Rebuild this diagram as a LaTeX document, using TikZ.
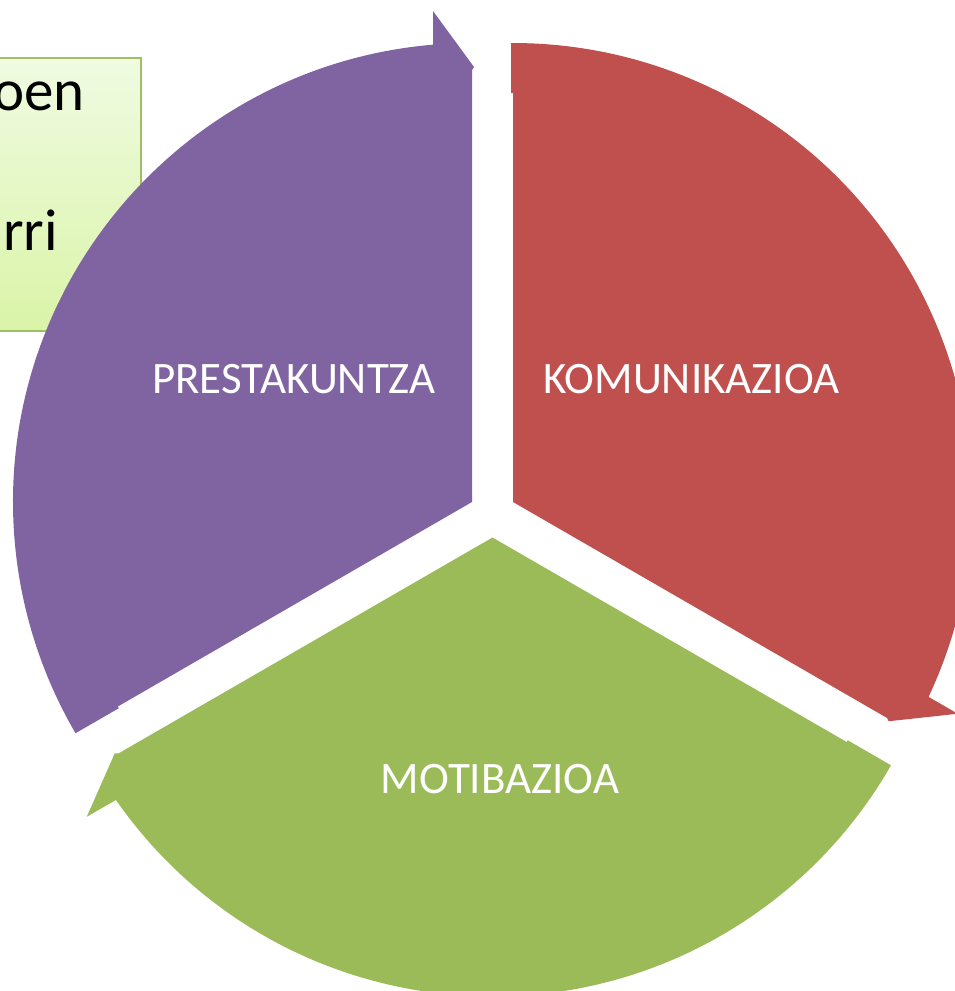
\documentclass[tikz,border=0pt]{standalone}
\usepackage{fontspec}
\setmainfont{Carlito}
\definecolor{cpurple}{HTML}{8064A2}
\definecolor{cred}{HTML}{C0504D}
\definecolor{cgreen}{HTML}{9BBB59}
\definecolor{boxtop}{HTML}{F0FBE2}
\definecolor{boxbot}{HTML}{DAF4A8}
\definecolor{boxline}{HTML}{9FC060}
\tikzset{
  pics/segarrow/.style={code={
    \fill[#1] (0,0) -- (0,432) -- (2,435) -- (-39,491) -- (-39,457.34)
      arc[start angle=94.874, end angle=210.25, radius=459pt]
      -- (210.28:409) -- (210:409) -- cycle;
  }},
  seglabel/.style={text=white, font=\fontsize{45}{54}\selectfont, anchor=base, inner sep=0pt},
  boxtext/.style={text=black, font=\fontsize{59}{70}\selectfont, anchor=base east, inner sep=0pt},
  infobox/.style={draw=boxline, line width=1.8pt, top color=boxtop, bottom color=boxbot,
    rectangle, inner sep=0pt, anchor=north east},
}
\begin{document}
\begin{tikzpicture}[x=1pt, y=1pt]
  \useasboundingbox (0,0) rectangle (955,-991);
  \clip (0,0) rectangle (955,-991);
  \fill[white] (0,0) rectangle (955,-991);
  % partially hidden text box
  \node[infobox, minimum width=242pt, minimum height=273pt] (box) at (142,-57) {};
  \node[boxtext] (t1) at (85,-110) {oen};
  \node[boxtext] (t2) at (58,-250) {arri};
  % three exploded segments with arrow heads
  \pic at (472,-502) {segarrow=cpurple};
  \pic[rotate=-120] at (513,-502) {segarrow=cred};
  \pic[rotate=120] at (492.5,-537.5) {segarrow=cgreen};
  % labels
  \node[seglabel] (prest) at (294,-393) {PRESTAKUNTZA};
  \node[seglabel] (komu) at (691.5,-393) {KOMUNIKAZIOA};
  \node[seglabel] (moti) at (500,-793) {MOTIBAZIOA};
\end{tikzpicture}
\end{document}
